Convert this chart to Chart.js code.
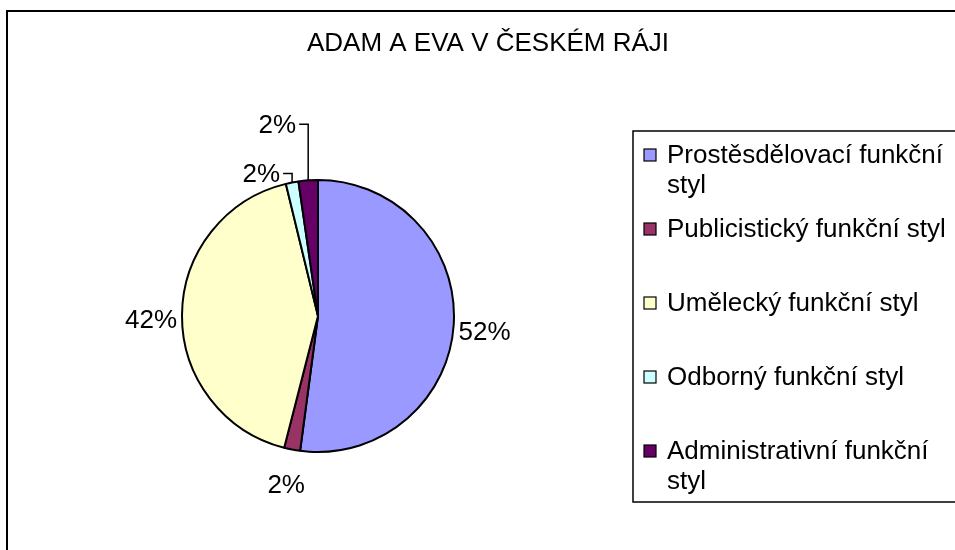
<!DOCTYPE html>
<html lang="cs">
<head>
<meta charset="utf-8">
<title>Adam a Eva v Českém ráji</title>
<script src="https://cdn.jsdelivr.net/npm/chart.js@4/dist/chart.umd.min.js"></script>
<style>
  html, body { margin: 0; padding: 0; background: #fff; }
  #wrap { width: 955px; height: 550px; overflow: hidden; }
</style>
</head>
<body>
<div id="wrap"><canvas id="pie" width="955" height="550"></canvas></div>
<script>
  'use strict';

  // ---- data ----
  const chartTitle = 'ADAM A EVA V ČESKÉM RÁJI';
  const categories = [
    'Prostěsdělovací funkční styl',
    'Publicistický funkční styl',
    'Umělecký funkční styl',
    'Odborný funkční styl',
    'Administrativní funkční styl'
  ];
  const shares = [52.1, 1.9, 42.2, 1.5, 2.3];
  const sliceColors = ['#9999FF', '#993366', '#FFFFCC', '#CCFFFF', '#660066'];

  const FONT = '26px "Liberation Sans", Arial, sans-serif';

  /* ---------- frame, title, labels and legend (Excel look) ---------- */
  const excelPie = {
    id: 'excelPie',
    beforeDraw(chart) {
      const ctx = chart.ctx;
      ctx.save();
      ctx.fillStyle = '#fff';
      ctx.fillRect(0, 0, chart.width, chart.height);
      ctx.strokeStyle = '#000';
      ctx.lineWidth = 2;
      ctx.strokeRect(7, 11, chart.width + 40, chart.height + 40);
      ctx.restore();
    },
    afterDraw(chart, args, opts) {
      const ctx = chart.ctx;
      const ds = chart.data.datasets[0];
      const total = ds.data.reduce((a, b) => a + b, 0);
      ctx.save();
      ctx.font = FONT;
      ctx.fillStyle = '#000';
      ctx.strokeStyle = '#000';
      ctx.textBaseline = 'middle';

      // title
      ctx.textAlign = 'center';
      ctx.fillText(opts.title, 488, 44);

      // slice labels
      const meta = chart.getDatasetMeta(0);
      meta.data.forEach((arc, i) => {
        const p = arc.getProps(['x', 'y', 'startAngle', 'endAngle', 'outerRadius'], true);
        const mid = (p.startAngle + p.endAngle) / 2;
        const txt = Math.round(ds.data[i] / total * 100) + '%';
        const rise = opts.leaders[i];
        if (rise != null) {
          const ex = p.x + Math.cos(mid) * p.outerRadius;
          const ey = p.y + Math.sin(mid) * p.outerRadius;
          const ty = ey - rise;
          ctx.lineWidth = 1.5;
          ctx.beginPath();
          ctx.moveTo(ex, ey);
          ctx.lineTo(ex, ty);
          ctx.lineTo(ex - 9, ty);
          ctx.stroke();
          ctx.textAlign = 'right';
          ctx.fillText(txt, ex - 12, ty + 1);
        } else {
          const d = p.outerRadius + 31;
          ctx.textAlign = 'center';
          ctx.fillText(txt, p.x + Math.cos(mid) * d, p.y + Math.sin(mid) * d + 6);
        }
      });

      // legend box
      const lg = opts.legend;
      ctx.lineWidth = 1.5;
      ctx.strokeRect(lg.x, lg.y, chart.width, lg.bottom - lg.y);
      ctx.textAlign = 'left';
      chart.data.labels.forEach((label, i) => {
        const cy = lg.firstRow + i * lg.rowStep;
        ctx.fillStyle = ds.backgroundColor[i];
        ctx.fillRect(lg.x + 11, cy - 6, 12, 12);
        ctx.lineWidth = 1.2;
        ctx.strokeRect(lg.x + 11, cy - 6, 12, 12);
        ctx.fillStyle = '#000';
        // wrap to the space left of the canvas edge
        const words = label.split(' ');
        const lines = [];
        let cur = '';
        words.forEach(w => {
          const test = cur ? cur + ' ' + w : w;
          if (ctx.measureText(test).width > chart.width - lg.textX - 2 && cur) {
            lines.push(cur);
            cur = w;
          } else {
            cur = test;
          }
        });
        lines.push(cur);
        lines.forEach((ln, k) => ctx.fillText(ln, lg.textX, cy + 1 + k * lg.lineStep));
      });
      ctx.restore();
    }
  };

  new Chart(document.getElementById('pie'), {
    type: 'pie',
    data: {
      labels: categories,
      datasets: [{
        data: shares,
        backgroundColor: sliceColors,
        borderColor: '#000',
        borderWidth: 2
      }]
    },
    options: {
      responsive: false,
      animation: false,
      events: [],
      layout: { padding: { left: 181, top: 179, right: 500, bottom: 97 } },
      plugins: {
        legend: { display: false },
        title: { display: false },
        tooltip: { enabled: false },
        excelPie: {
          title: chartTitle,
          leaders: { 3: 9, 4: 56 },
          legend: { x: 633, y: 131, bottom: 502, textX: 667, firstRow: 155, rowStep: 74, lineStep: 30 }
        }
      }
    },
    plugins: [excelPie]
  });
</script>
</body>
</html>
